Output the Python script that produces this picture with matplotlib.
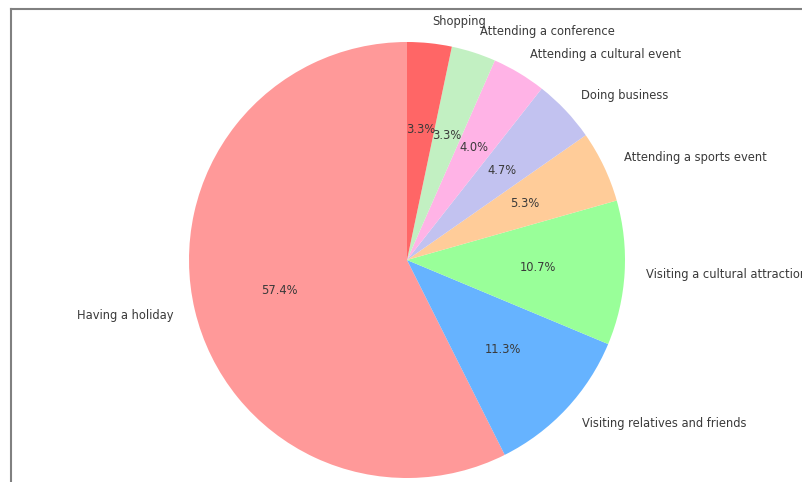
import matplotlib
matplotlib.use("Agg")
import matplotlib.pyplot as plt
from matplotlib.lines import Line2D

labels = ["Having a holiday", "Visiting relatives and friends", "Visiting a cultural attraction",
          "Attending a sports event", "Doing business", "Attending a cultural event",
          "Attending a conference", "Shopping"]
values = [57.4, 11.3, 10.7, 5.3, 4.7, 4.0, 3.3, 3.3]
colors = ["#ff9999", "#66b3ff", "#99ff99", "#ffcc99", "#c2c2f0", "#ffb3e6", "#c2f0c2", "#ff6666"]

W, H = 803, 482
fig = plt.figure(figsize=(W / 100, H / 100), dpi=100)
cx, cy, r = 407, 260, 218
ax = fig.add_axes([(cx - r) / W, (H - cy - r) / H, 2 * r / W, 2 * r / H])
wedges, texts, autotexts = ax.pie(values, labels=labels, colors=colors, startangle=90,
                                  autopct="%1.1f%%", textprops={"fontsize": 8.3, "color": "#3a3a3a"})
ax.set_xlim(-1, 1)
ax.set_ylim(-1, 1)
ax.set_aspect("equal")
ax.axis("off")

# screenshot frame
fig.add_artist(Line2D([11 / W, 11 / W], [0, 1 - 9 / H], transform=fig.transFigure, color="#808080", lw=1.5))
fig.add_artist(Line2D([11 / W, 1], [1 - 9 / H, 1 - 9 / H], transform=fig.transFigure, color="#808080", lw=1.5))

fig.savefig("out.png", dpi=100)
